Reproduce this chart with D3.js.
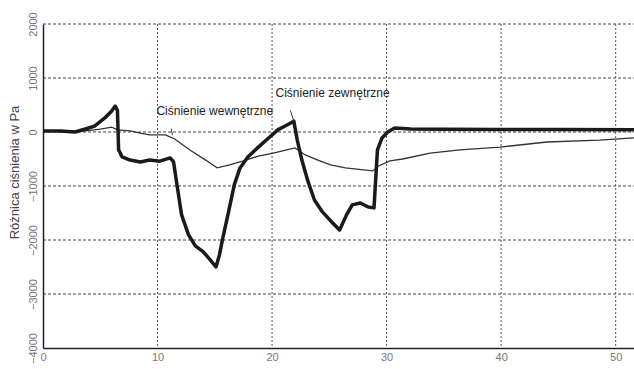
<!DOCTYPE html>
<html>
<head>
<meta charset="utf-8">
<script src="https://cdn.jsdelivr.net/npm/d3@7"></script>
<style>
  html, body { margin: 0; padding: 0; background: #fff; }
  svg { display: block; }
</style>
</head>
<body>
<div id="chart"></div>
<script>
// tick values
const xTicks = [0, 10, 20, 30, 40, 50];
const yTicks = [2000, 1000, 0, -1000, -2000, -3000, -4000];

// Ciśnienie zewnętrzne (thick line) - time [s], value [Pa]
const extT = [0, 1.5, 2.8, 3.7, 4.5, 5.4, 6.0, 6.3, 6.5, 6.6, 6.9, 7.6, 8.5, 9.3, 10.2, 11.1, 11.4, 11.7, 12.1, 12.7, 13.3, 14.0, 14.6, 15.1, 15.4, 15.7, 16.2, 16.7, 17.2, 17.9, 18.8, 19.7, 20.5, 21.3, 21.9, 22.2, 22.6, 23.1, 23.7, 24.4, 25.2, 25.9, 26.5, 27.0, 27.7, 28.4, 28.9, 29.2, 29.6, 30.1, 30.7, 32.1, 35, 40, 45, 51.6];
const extV = [20, 20, 0, 55, 110, 260, 390, 480, 400, -330, -460, -520, -555, -520, -540, -480, -555, -980, -1535, -1900, -2110, -2220, -2370, -2500, -2280, -1960, -1480, -980, -665, -460, -280, -110, 40, 130, 200, -150, -520, -890, -1260, -1480, -1665, -1815, -1535, -1350, -1315, -1390, -1405, -330, -110, 0, 75, 55, 50, 45, 45, 40];

// Ciśnienie wewnętrzne (thin line)
const intT = [0, 3.7, 5.0, 6.0, 6.5, 7.6, 8.5, 9.3, 10.7, 11.5, 12.8, 14.2, 15.2, 16.3, 17.5, 18.8, 20.1, 22.0, 22.9, 24.0, 25.1, 26.4, 28.8, 29.3, 30.3, 31.4, 33.8, 36.4, 39.9, 44.0, 48.6, 51.6];
const intV = [20, 20, 55, 90, 40, 20, -20, -55, -55, -130, -330, -520, -665, -610, -535, -445, -390, -295, -425, -520, -610, -665, -720, -630, -535, -500, -390, -330, -280, -185, -150, -110];

// annotations: text, anchor on curve, label position (data units)
const labels = ['Ciśnienie wewnętrzne', 'Ciśnienie zewnętrzne'];
const labelAnchorT = [11.3, 21.9];
const labelAnchorV = [-60, 200];
const labelT = [9.9, 20.3];
const labelV = [310, 650];

const width = 634, height = 369;
const margin = { top: 24, right: 0, bottom: 21, left: 43 };

const svg = d3.select('#chart')
    .append('svg')
    .attr('width', width)
    .attr('height', height);

const x = d3.scaleLinear()
    .domain([0, 51.6])
    .range([margin.left, width - margin.right]);

const y = d3.scaleLinear()
    .domain([-4000, 2000])
    .range([height - margin.bottom, margin.top]);

// grid
svg.append('g')
    .selectAll('line')
    .data(yTicks.filter(d => d > -4000))
    .enter()
    .append('line')
    .attr('x1', x(0))
    .attr('x2', width)
    .attr('y1', d => y(d))
    .attr('y2', d => y(d))
    .attr('stroke', '#444')
    .attr('stroke-width', 1)
    .attr('stroke-dasharray', '3,2');

svg.append('g')
    .selectAll('line')
    .data(xTicks.filter(d => d > 0))
    .enter()
    .append('line')
    .attr('x1', d => x(d))
    .attr('x2', d => x(d))
    .attr('y1', y(2000))
    .attr('y2', y(-4000))
    .attr('stroke', '#555')
    .attr('stroke-width', 1)
    .attr('stroke-dasharray', '2,2');

// axes
const xAxis = svg.append('g')
    .attr('transform', 'translate(0,' + y(-4000) + ')')
    .call(d3.axisBottom(x).tickValues(xTicks).tickFormat(d3.format('d')).tickSize(0).tickPadding(5));
xAxis.select('.domain').attr('stroke', '#222').attr('stroke-width', 1.5);
xAxis.selectAll('text')
    .attr('fill', '#777')
    .style('font-family', 'Liberation Sans, Arial, sans-serif')
    .style('font-size', '11px');

const yAxis = svg.append('g')
    .attr('transform', 'translate(' + x(0) + ',0)')
    .call(d3.axisLeft(y).tickValues(yTicks).tickFormat(d3.format('d')).tickSize(0).tickPadding(0));
yAxis.select('.domain').attr('stroke', '#222').attr('stroke-width', 1.5);
yAxis.selectAll('text')
    .attr('fill', '#777')
    .attr('x', 0)
    .attr('dy', 0)
    .attr('text-anchor', 'middle')
    .attr('transform', 'translate(-6,0) rotate(-90)')
    .style('font-family', 'Liberation Sans, Arial, sans-serif')
    .style('font-size', '11px');

// axis title
svg.append('text')
    .attr('transform', 'translate(19,' + y(-750) + ') rotate(-90)')
    .attr('text-anchor', 'middle')
    .attr('fill', '#444')
    .style('font-family', 'Liberation Sans, Arial, sans-serif')
    .style('font-size', '13px')
    .text('Różnica ciśnienia w Pa');

// lines
const line = d3.line()
    .x(d => x(d[0]))
    .y(d => y(d[1]));

svg.append('path')
    .datum(intT.map((t, i) => [t, intV[i]]))
    .attr('fill', 'none')
    .attr('stroke', '#333')
    .attr('stroke-width', 1.3)
    .attr('d', line);

svg.append('path')
    .datum(extT.map((t, i) => [t, extV[i]]))
    .attr('fill', 'none')
    .attr('stroke', '#1a1a1a')
    .attr('stroke-width', 3.5)
    .attr('stroke-linejoin', 'round')
    .attr('d', line);

// annotations
const ann = svg.append('g');
labels.forEach((txt, i) => {
    ann.append('line')
        .attr('x1', x(labelT[i] + 1.3))
        .attr('y1', y(labelV[i] - 250))
        .attr('x2', x(labelAnchorT[i]))
        .attr('y2', y(labelAnchorV[i]))
        .attr('stroke', '#333')
        .attr('stroke-width', 1);
    ann.append('text')
        .attr('x', x(labelT[i]))
        .attr('y', y(labelV[i]))
        .attr('fill', '#222')
        .style('font-family', 'Liberation Sans Narrow, Arial Narrow, sans-serif')
        .style('font-size', '12px')
        .text(txt);
});
</script>
</body>
</html>
